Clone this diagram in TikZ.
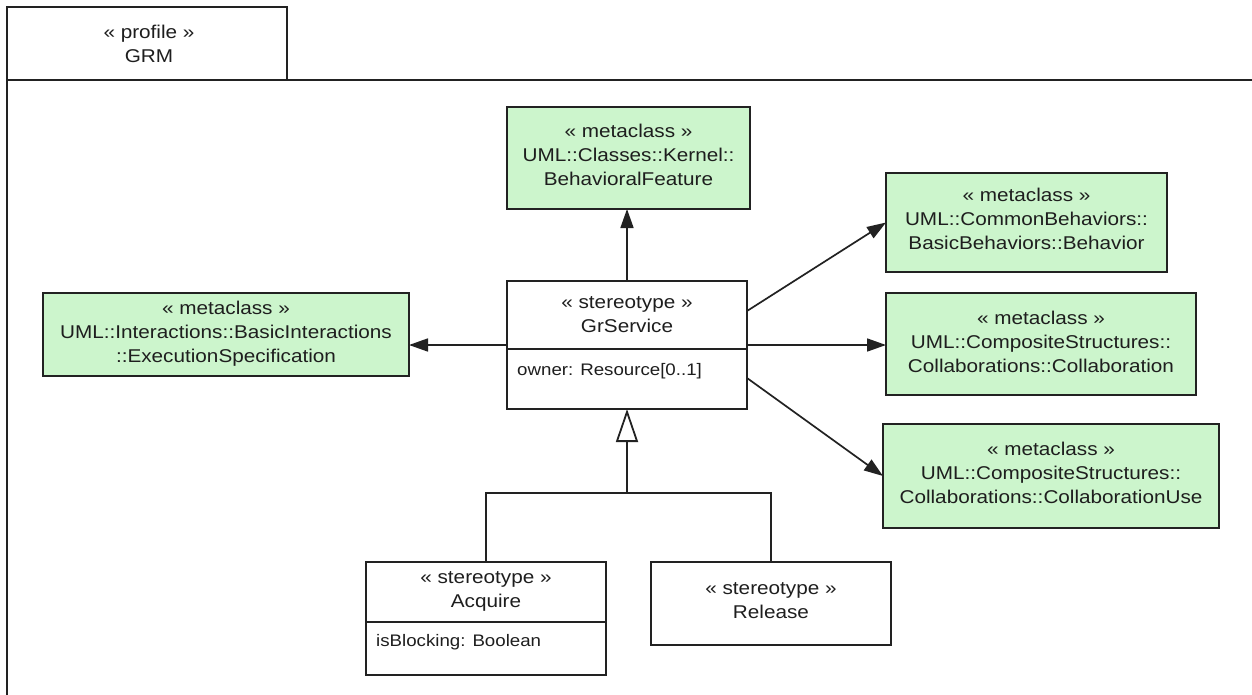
\documentclass[tikz,border=0pt]{standalone}
\usepackage{fontspec}
\setmainfont{Liberation Sans}[FakeStretch=1.12]
\usetikzlibrary{arrows.meta}
\definecolor{mgreen}{RGB}{204,245,204}
\definecolor{edge}{RGB}{34,34,34}
\definecolor{txt}{RGB}{30,30,30}
\begin{document}
\begin{tikzpicture}[x=1pt,y=-1pt,
  box/.style={draw=edge,line width=1.9pt,inner sep=0pt,outer sep=0pt},
  meta/.style={box,fill=mgreen},
  lbl/.style={font=\fontsize{18.5}{24}\selectfont,align=center,text=txt,inner sep=0pt},
  small/.style={font=\fontsize{16.7}{20}\selectfont,text=txt,inner sep=0pt,anchor=west},
  assoc/.style={draw=edge,line width=1.7pt,-{Triangle[length=19pt,width=13pt]}},
  genl/.style={draw=edge,line width=1.8pt},
  gentri/.style={genl,-{Triangle[fill=white,length=33pt,width=22pt]}},
  divl/.style={draw=edge,line width=1.7pt}
]
\useasboundingbox (0,0) rectangle (1252,694);
\fill[white] (0,0) rectangle (1252,694);
\begin{scope}
  \clip (0,0) rectangle (1252,694);
  \draw[line width=2pt,draw=edge] (7,710) -- (7,80) -- (1270,80);
\end{scope}
% package tab
\node[box,fill=white,minimum width=280pt,minimum height=73pt] (tab) at (147,43.5) {};
\node[lbl] (tabt) at (149,44) {« profile »\\GRM};

% metaclass boxes
\node[meta,minimum width=243pt,minimum height=102pt] (bf) at (628.5,158) {};
\node[lbl] (bft) at (628.5,155) {« metaclass »\\UML::Classes::Kernel::\\BehavioralFeature};

\node[meta,minimum width=281pt,minimum height=99pt] (beh) at (1026.5,222.5) {};
\node[lbl] (beht) at (1026.5,219) {« metaclass »\\UML::CommonBehaviors::\\BasicBehaviors::Behavior};

\node[meta,minimum width=310pt,minimum height=102pt] (col) at (1041,344) {};
\node[lbl] (colt) at (1041,342) {« metaclass »\\UML::CompositeStructures::\\Collaborations::Collaboration};

\node[meta,minimum width=336pt,minimum height=104pt] (cuse) at (1051,476) {};
\node[lbl] (cuset) at (1051,473) {« metaclass »\\UML::CompositeStructures::\\Collaborations::CollaborationUse};

\node[meta,minimum width=366pt,minimum height=83pt] (exec) at (226,334.5) {};
\node[lbl] (exect) at (226,334) {« metaclass »\\UML::Interactions::BasicInteractions\\::ExecutionSpecification};

% GrService
\node[box,fill=white,minimum width=240pt,minimum height=128pt] (grs) at (627,345) {};
\coordinate (grsdiv) at (0,349);
\draw[divl] (grs.west |- grsdiv) -- (grs.east |- grsdiv);
\node[lbl] (grst) at (627,315) {« stereotype »\\GrService};
\node[small] (grsa) at (517,371) {owner: Resource[0..1]};

% Acquire
\node[box,fill=white,minimum width=240pt,minimum height=113pt] (acq) at (486,618.5) {};
\coordinate (acqdiv) at (0,622);
\draw[divl] (acq.west |- acqdiv) -- (acq.east |- acqdiv);
\node[lbl] (acqt) at (486,591) {« stereotype »\\Acquire};
\node[small] (acqa) at (376,642) {isBlocking: Boolean};

% Release
\node[box,fill=white,minimum width=240pt,minimum height=83pt] (rel) at (771,603.5) {};
\node[lbl] (relt) at (771,601) {« stereotype »\\Release};

% associations
\draw[assoc] (grs.north) -- (grs.north |- bf.south);
\draw[assoc] (grs.west) -- (grs.west -| exec.east);
\draw[assoc] ([yshift=34pt]grs.east) -- (beh.west);
\draw[assoc] (grs.east) -- (grs.east -| col.west);
\draw[assoc] ([yshift=-33pt]grs.east) -- (cuse.west);

% generalization
\coordinate (jn) at (627,493);
\draw[genl] (acq.north) |- (jn) -| (rel.north);
\draw[gentri] (jn) -- (grs.south);
\end{tikzpicture}
\end{document}
